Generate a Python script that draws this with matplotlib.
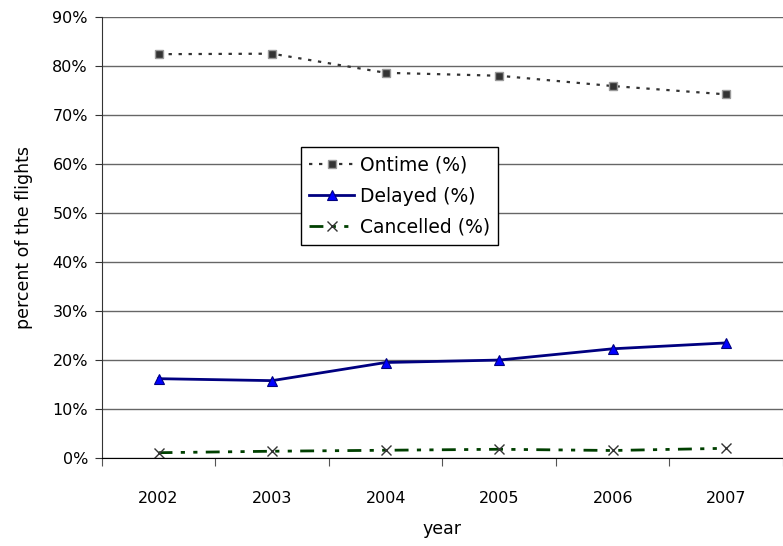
import matplotlib
matplotlib.use("Agg")
import matplotlib.pyplot as plt
from matplotlib.ticker import FixedLocator, NullFormatter, FuncFormatter

plt.rcParams["font.family"] = ["DejaVu Sans"]

# dados
anos = ["2002", "2003", "2004", "2005", "2006", "2007"]
ontime = [82.4, 82.5, 78.6, 78.0, 75.9, 74.2]
delayed = [16.2, 15.8, 19.5, 20.0, 22.3, 23.5]
cancelled = [1.1, 1.4, 1.6, 1.8, 1.55, 2.0]

fig = plt.figure(figsize=(7.83, 5.46), dpi=100)
ax = fig.add_axes([0.130, 0.161, 0.87, 0.808])

x = [i + 0.5 for i in range(len(anos))]

ax.plot(x, ontime, linestyle=(0, (1.5, 3)), color="#333333", linewidth=1.6,
        marker="s", markersize=6, markerfacecolor="#333333",
        markeredgecolor="#999999", markeredgewidth=1, label="Ontime (%)")
ax.plot(x, delayed, linestyle="-", color="#000080", linewidth=2,
        marker="^", markersize=7, markerfacecolor="#0000ff",
        markeredgecolor="#000080", markeredgewidth=0.8, label="Delayed (%)")
ax.plot(x, cancelled, linestyle=(0, (5, 3, 1.5, 3, 1.5, 3)), color="#004000",
        linewidth=2, marker="x", markersize=6.5, markeredgecolor="#333333",
        markeredgewidth=1, label="Cancelled (%)")

ax.set_xlim(0, 6)
ax.set_ylim(0, 90)

# eixo x: ticks entre categorias, rotulos no centro
ax.xaxis.set_major_locator(FixedLocator(range(7)))
ax.xaxis.set_major_formatter(NullFormatter())
ax.xaxis.set_minor_locator(FixedLocator(x))
ax.set_xticklabels(anos, minor=True)
ax.tick_params(axis="x", which="major", direction="out", length=6, color="#555555")
ax.tick_params(axis="x", which="minor", length=0, pad=24, labelsize=11.5)

ax.set_yticks(range(0, 91, 10))
ax.yaxis.set_major_formatter(FuncFormatter(lambda v, p: "%d%%" % v))
ax.tick_params(axis="y", direction="out", length=5, color="#333333",
               labelsize=11.5, pad=5)

ax.grid(axis="y", color="#666666", linewidth=1)
ax.set_axisbelow(True)
for s in ["top", "right"]:
    ax.spines[s].set_visible(False)
ax.spines["left"].set_color("#333333")
ax.spines["bottom"].set_color("#000000")

ax.set_xlabel("year", fontsize=12.5, labelpad=10)
ax.set_ylabel("percent of the flights", fontsize=12.5, labelpad=14)

leg = ax.legend(loc="upper left", bbox_to_anchor=(0.292, 0.705), fontsize=13.5,
                frameon=True, fancybox=False, framealpha=1, edgecolor="#000000",
                handlelength=2.4, handletextpad=0.3, borderpad=0.45,
                labelspacing=0.65, borderaxespad=0)
leg.get_frame().set_linewidth(1)

plt.savefig("out.png", dpi=100)
